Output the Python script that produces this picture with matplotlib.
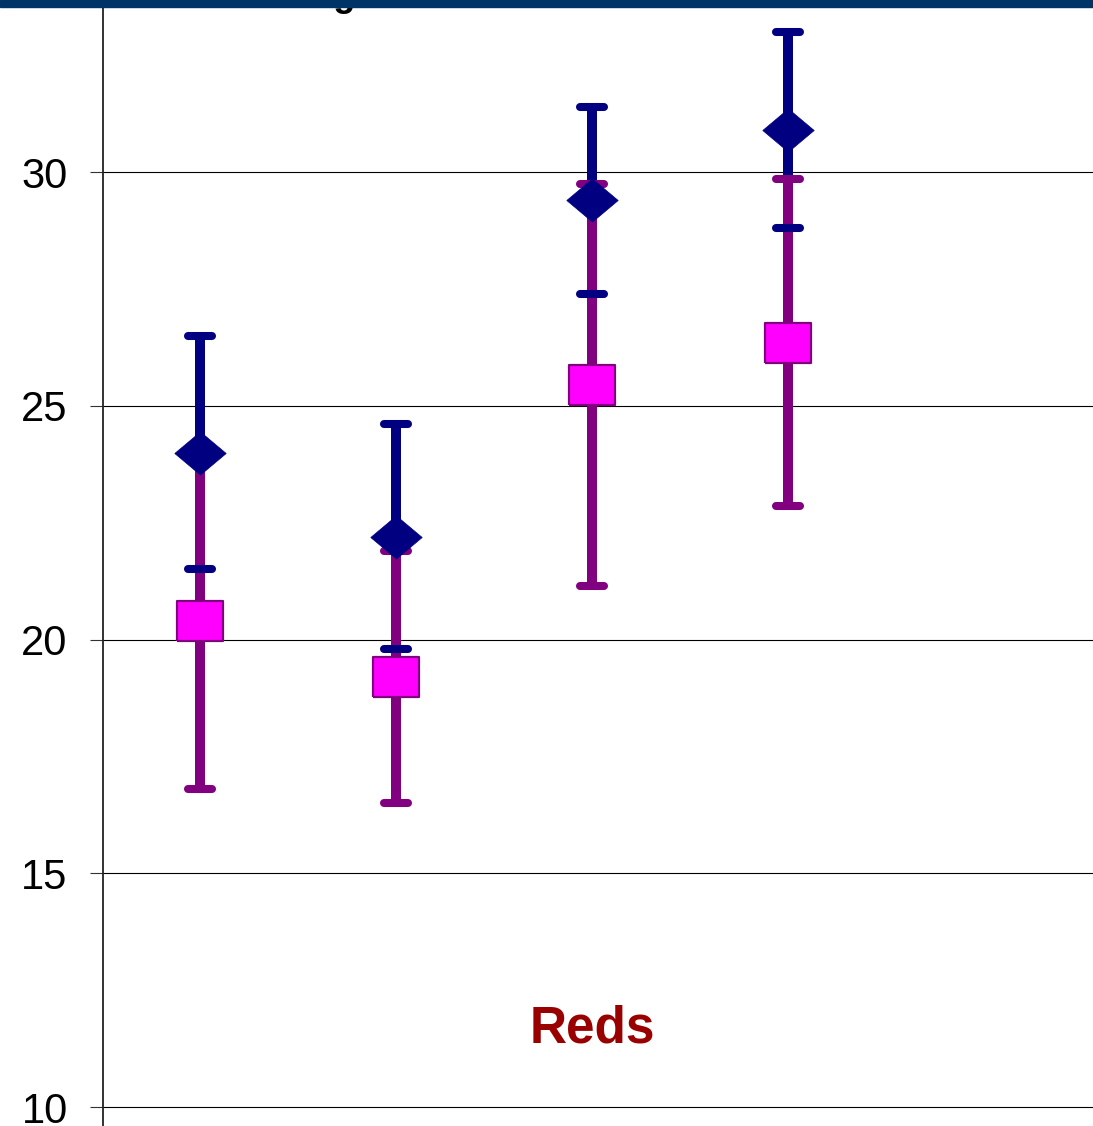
import numpy as np
import matplotlib
matplotlib.use("Agg")
import matplotlib.pyplot as plt
from matplotlib.patches import Rectangle

plt.rcParams["font.family"] = ["Liberation Sans", "DejaVu Sans"]

# groups along x (category positions)
groups = [1, 2, 3, 4]

# navy series (diamonds): mean and +/- error
navy_mean = [24.0, 22.2, 29.4, 30.9]
navy_err = [2.5, 2.4, 2.0, 2.1]

# purple / magenta series (squares)
pink_mean = [20.4, 19.2, 25.45, 26.35]
pink_err = [3.6, 2.7, 4.3, 3.5]

yticks = [10, 15, 20, 25, 30]

NAVY = "#000080"
PURPLE = "#800080"
MAGENTA = "#FF00FF"

W, H = 1093, 1126
fig = plt.figure(figsize=(W / 100, H / 100), dpi=100)
ax = fig.add_axes([103 / W, 0, 1 - 103 / W, 1])

ax.set_xlim(0.505, 5.556)
ax.set_ylim(9.594, 33.68)

# markers slightly wider than tall, like the original
diamond = [(-1, 0), (0, 0.84), (1, 0), (0, -0.84), (-1, 0)]
square = [(-1, -0.87), (1, -0.87), (1, 0.87), (-1, 0.87), (-1, -0.87)]

cap = 0.061

nx = np.asarray(groups, float)
nm, ne = np.asarray(navy_mean), np.asarray(navy_err)
pm, pe = np.asarray(pink_mean), np.asarray(pink_err)

# vertical bars: navy first, purple drawn over it
ax.vlines(nx, nm - ne, nm + ne, color=NAVY, lw=7.2, zorder=2)
ax.vlines(nx, pm - pe, pm + pe, color=PURPLE, lw=7.2, zorder=3)

# caps (purple under navy)
for yy in (pm - pe, pm + pe):
    ax.hlines(yy, nx - cap, nx + cap, color=PURPLE, lw=5.8, zorder=4,
              capstyle="round")
for yy in (nm - ne, nm + ne):
    ax.hlines(yy, nx - cap, nx + cap, color=NAVY, lw=5.8, zorder=4.5,
              capstyle="round")

ax.plot(nx, pm, ls="none", marker=square, ms=33, mfc=MAGENTA, mec=PURPLE,
        mew=1.6, zorder=5)
ax.plot(nx, nm, ls="none", marker=diamond, ms=37, mfc=NAVY, mec=NAVY,
        mew=0.5, zorder=6)

ax.set_yticks(yticks)
ax.set_xticks([])
ax.yaxis.grid(True, color="black", lw=0.8)
ax.set_axisbelow(True)
ax.tick_params(axis="y", direction="out", length=9.4, width=0.8,
               labelsize=30, pad=16, color="#333333")
for s in ("top", "right", "bottom"):
    ax.spines[s].set_visible(False)
ax.spines["left"].set_linewidth(1.3)
ax.spines["left"].set_color("#222222")

ax.text(3, 11.37, "Reds", color="#990000", fontsize=37, fontweight="bold",
        ha="center", va="baseline")

# title cut off at the top of the slide, under the header band
fig.text(128 / W, 1 - 6 / H, "Scores vs Age", fontsize=26, fontweight="bold",
         color="black", ha="left", va="baseline")
fig.patches.append(Rectangle((0, 1 - 7 / H), 1, 7 / H, transform=fig.transFigure,
                             color="#003366", zorder=10))

fig.savefig("out.png", dpi=100)
